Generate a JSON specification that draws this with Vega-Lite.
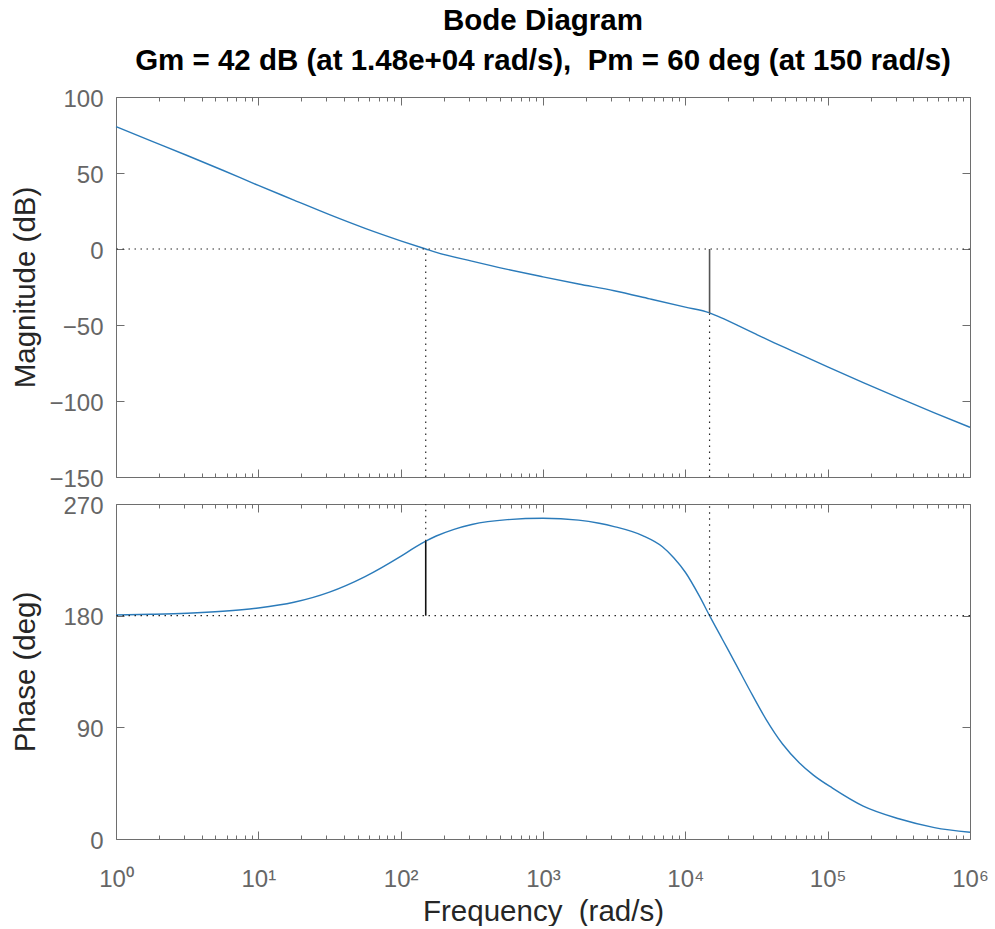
{
  "$schema": "https://vega.github.io/schema/vega-lite/v6.json",
  "background": "white",
  "padding": {"left": 10, "top": 5, "right": 0, "bottom": 0},
  "bounds": "flush",
  "spacing": 27,
  "config": {
    "font": "Liberation Sans",
    "view": {"stroke": null},
    "axis": {
      "grid": false,
      "domainColor": "#6e6e6e",
      "tickColor": "#6e6e6e",
      "domainWidth": 1,
      "tickWidth": 1,
      "labelColor": "#666666",
      "labelFont": "Liberation Sans",
      "labelFontSize": 24,
      "titleFont": "Liberation Sans",
      "titleFontSize": 29.5,
      "titleFontWeight": "normal",
      "titleColor": "#262626"
    }
  },
  "datasets": {
    "mag": [
      {"w": 1, "db": 80.5}, {"w": 1.778, "db": 71.0}, {"w": 3.162, "db": 61.5}, {"w": 5.623, "db": 51.8},
      {"w": 10, "db": 41.8}, {"w": 17.78, "db": 32.2}, {"w": 31.62, "db": 22.6}, {"w": 56.23, "db": 13.6},
      {"w": 100, "db": 5.4}, {"w": 150, "db": 0}, {"w": 177.8, "db": -2.2}, {"w": 316.2, "db": -8.0},
      {"w": 562.3, "db": -13.4}, {"w": 1000, "db": -18.3}, {"w": 1778, "db": -23.0}, {"w": 3162, "db": -27.5},
      {"w": 5623, "db": -32.8}, {"w": 10000, "db": -38.2}, {"w": 14800, "db": -42.0}, {"w": 17780, "db": -45.2},
      {"w": 23710, "db": -50.6}, {"w": 31620, "db": -56.2}, {"w": 42170, "db": -61.7}, {"w": 56230, "db": -67.0},
      {"w": 100000, "db": -77.6}, {"w": 177800, "db": -87.9}, {"w": 316200, "db": -98.0}, {"w": 562300, "db": -107.8},
      {"w": 1000000, "db": -117.3}
    ],
    "phase": [
      {"w": 1, "deg": 180.5}, {"w": 1.778, "deg": 181.1}, {"w": 3.162, "deg": 182.0}, {"w": 5.623, "deg": 183.6},
      {"w": 10, "deg": 186.2}, {"w": 17.78, "deg": 190.8}, {"w": 31.62, "deg": 199.0}, {"w": 56.23, "deg": 211.5},
      {"w": 100, "deg": 227.8}, {"w": 125.9, "deg": 235.0}, {"w": 150, "deg": 240.0}, {"w": 177.8, "deg": 244.2},
      {"w": 237.1, "deg": 249.6}, {"w": 316.2, "deg": 253.5}, {"w": 562.3, "deg": 257.4}, {"w": 1000, "deg": 258.5},
      {"w": 1778, "deg": 257.0}, {"w": 2480, "deg": 254.5}, {"w": 3162, "deg": 251.8}, {"w": 5012, "deg": 244.5},
      {"w": 6902, "deg": 235.5}, {"w": 8318, "deg": 226.5}, {"w": 10000, "deg": 215.0}, {"w": 12589, "deg": 195.5},
      {"w": 14800, "deg": 180.0}, {"w": 18197, "deg": 161.0}, {"w": 22387, "deg": 142.0}, {"w": 28184, "deg": 120.5},
      {"w": 36813, "deg": 96.7}, {"w": 48195, "deg": 76.6}, {"w": 63096, "deg": 61.5}, {"w": 79433, "deg": 51.5},
      {"w": 108143, "deg": 41.0}, {"w": 177800, "deg": 26.5}, {"w": 316200, "deg": 16.3}, {"w": 562300, "deg": 9.2},
      {"w": 1000000, "deg": 5.4}
    ],
    "magDotV": [{"w": 150, "y1": -150, "y2": 0}, {"w": 14800, "y1": -150, "y2": -42}],
    "magDotH": [{"y": 0}],
    "magSolid": [{"w": 14800, "y1": -42, "y2": 0}],
    "phDotV": [{"w": 150, "y1": 240, "y2": 270}, {"w": 14800, "y1": 180, "y2": 270}],
    "phDotH": [{"y": 180}],
    "phSolid": [{"w": 150, "y1": 180, "y2": 240}]
  },
  "vconcat": [
    {
      "width": 854,
      "height": 380,
      "title": {
        "text": ["Bode Diagram", "Gm = 42 dB (at 1.48e+04 rad/s), \u00a0Pm = 60 deg (at 150 rad/s)"],
        "font": "Liberation Sans",
        "fontSize": 29.5,
        "fontWeight": "bold",
        "color": "#000000",
        "lineHeight": 40,
        "anchor": "middle",
        "frame": "group",
        "offset": 11
      },
      "resolve": {"axis": {"x": "independent", "y": "independent"}},
      "layer": [
        {
          "data": {"name": "mag"},
          "mark": {"type": "line", "color": "#2b7bba", "strokeWidth": 1.4, "interpolate": "monotone"},
          "encoding": {
            "x": {"field": "w", "type": "quantitative",
              "scale": {"type": "log", "domain": [1, 1000000], "nice": false},
              "axis": {"orient": "bottom", "labels": false, "title": null, "labelFlush": false,
                "values": [1,2,3,4,5,6,7,8,9,10,20,30,40,50,60,70,80,90,100,200,300,400,500,600,700,800,900,1000,2000,3000,4000,5000,6000,7000,8000,9000,10000,20000,30000,40000,50000,60000,70000,80000,90000,100000,200000,300000,400000,500000,600000,700000,800000,900000,1000000],
                "tickSize": {"condition": {"test": "indexof([1,10,100,1000,10000,100000,1000000], datum.value) >= 0", "value": -8}, "value": -4}}},
            "y": {"field": "db", "type": "quantitative",
              "scale": {"domain": [-150, 100], "nice": false, "zero": false},
              "axis": {"orient": "left", "values": [-150,-100,-50,0,50,100], "tickSize": -8, "labelPadding": 21, "labelOffset": 2,
                "title": "Magnitude (dB)", "titlePadding": 8, "minExtent": 68, "maxExtent": 68}}
          }
        },
        {
          "data": {"name": "magDotV"},
          "mark": {"type": "rule", "color": "#262626", "strokeDash": [1.5, 4.5], "strokeWidth": 1.2},
          "encoding": {
            "x": {"field": "w", "type": "quantitative",
              "scale": {"type": "log", "domain": [1, 1000000], "nice": false},
              "axis": {"orient": "top", "labels": false, "title": null,
                "values": [1,2,3,4,5,6,7,8,9,10,20,30,40,50,60,70,80,90,100,200,300,400,500,600,700,800,900,1000,2000,3000,4000,5000,6000,7000,8000,9000,10000,20000,30000,40000,50000,60000,70000,80000,90000,100000,200000,300000,400000,500000,600000,700000,800000,900000,1000000],
                "tickSize": {"condition": {"test": "indexof([1,10,100,1000,10000,100000,1000000], datum.value) >= 0", "value": -8}, "value": -4}}},
            "y": {"field": "y1", "type": "quantitative",
              "scale": {"domain": [-150, 100], "nice": false, "zero": false},
              "axis": {"orient": "right", "labels": false, "title": null, "values": [-150,-100,-50,0,50,100], "tickSize": -8}},
            "y2": {"field": "y2"}
          }
        },
        {
          "data": {"name": "magDotH"},
          "mark": {"type": "rule", "color": "#262626", "strokeDash": [1.5, 4.5], "strokeWidth": 1.2},
          "encoding": {
            "y": {"field": "y", "type": "quantitative", "axis": null}
          }
        },
        {
          "data": {"name": "magSolid"},
          "mark": {"type": "rule", "color": "#555555", "strokeWidth": 1.6},
          "encoding": {
            "x": {"field": "w", "type": "quantitative", "axis": null},
            "y": {"field": "y1", "type": "quantitative", "axis": null},
            "y2": {"field": "y2"}
          }
        }
      ]
    },
    {
      "width": 854,
      "height": 335,
      "resolve": {"axis": {"x": "independent", "y": "independent"}},
      "layer": [
        {
          "data": {"name": "phase"},
          "mark": {"type": "line", "color": "#2b7bba", "strokeWidth": 1.4, "interpolate": "monotone"},
          "encoding": {
            "x": {"field": "w", "type": "quantitative",
              "scale": {"type": "log", "domain": [1, 1000000], "nice": false},
              "axis": {"orient": "bottom", "title": "Frequency\u00a0 (rad/s)", "titlePadding": 2, "labelFlush": false, "labelOverlap": false,
                "labelPadding": 36, "labelBaseline": "top",
                "labelExpr": "datum.value === 1 ? '10⁰' : datum.value === 10 ? '10¹' : datum.value === 100 ? '10²' : datum.value === 1000 ? '10³' : datum.value === 10000 ? '10⁴' : datum.value === 100000 ? '10⁵' : datum.value === 1000000 ? '10⁶' : ''",
                "values": [1,2,3,4,5,6,7,8,9,10,20,30,40,50,60,70,80,90,100,200,300,400,500,600,700,800,900,1000,2000,3000,4000,5000,6000,7000,8000,9000,10000,20000,30000,40000,50000,60000,70000,80000,90000,100000,200000,300000,400000,500000,600000,700000,800000,900000,1000000],
                "tickSize": {"condition": {"test": "indexof([1,10,100,1000,10000,100000,1000000], datum.value) >= 0", "value": -8}, "value": -4}}},
            "y": {"field": "deg", "type": "quantitative",
              "scale": {"domain": [0, 270], "nice": false, "zero": false},
              "axis": {"orient": "left", "values": [0, 90, 180, 270], "tickSize": -8, "labelPadding": 21, "labelOffset": 2,
                "title": "Phase (deg)", "titlePadding": 8, "minExtent": 68, "maxExtent": 68}}
          }
        },
        {
          "data": {"name": "phDotV"},
          "mark": {"type": "rule", "color": "#262626", "strokeDash": [1.5, 4.5], "strokeWidth": 1.2},
          "encoding": {
            "x": {"field": "w", "type": "quantitative",
              "scale": {"type": "log", "domain": [1, 1000000], "nice": false},
              "axis": {"orient": "top", "labels": false, "title": null,
                "values": [1,2,3,4,5,6,7,8,9,10,20,30,40,50,60,70,80,90,100,200,300,400,500,600,700,800,900,1000,2000,3000,4000,5000,6000,7000,8000,9000,10000,20000,30000,40000,50000,60000,70000,80000,90000,100000,200000,300000,400000,500000,600000,700000,800000,900000,1000000],
                "tickSize": {"condition": {"test": "indexof([1,10,100,1000,10000,100000,1000000], datum.value) >= 0", "value": -8}, "value": -4}}},
            "y": {"field": "y1", "type": "quantitative",
              "scale": {"domain": [0, 270], "nice": false, "zero": false},
              "axis": {"orient": "right", "labels": false, "title": null, "values": [0, 90, 180, 270], "tickSize": -8}},
            "y2": {"field": "y2"}
          }
        },
        {
          "data": {"name": "phDotH"},
          "mark": {"type": "rule", "color": "#262626", "strokeDash": [1.5, 4.5], "strokeWidth": 1.2},
          "encoding": {
            "y": {"field": "y", "type": "quantitative", "axis": null}
          }
        },
        {
          "data": {"name": "phSolid"},
          "mark": {"type": "rule", "color": "#111111", "strokeWidth": 1.6},
          "encoding": {
            "x": {"field": "w", "type": "quantitative", "axis": null},
            "y": {"field": "y1", "type": "quantitative", "axis": null},
            "y2": {"field": "y2"}
          }
        }
      ]
    }
  ]
}
